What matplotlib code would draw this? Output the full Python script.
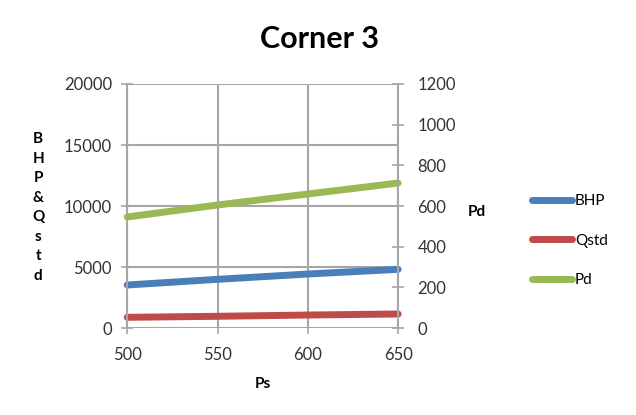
import numpy as np
import matplotlib
matplotlib.use('Agg')
import matplotlib.pyplot as plt

plt.rcParams['font.family'] = ['Lato', 'DejaVu Sans']

ps = [500, 550, 600, 650]
bhp = [3525, 3990, 4426, 4808]
qstd = [877, 960, 1065, 1150]
pd_vals = [546, 605, 659, 713]

c_bhp = '#4a7ebb'
c_qstd = '#be4b48'
c_pd = '#98b954'
grid_c = '#a6a6a6'

fig = plt.figure(figsize=(6.36, 4.15), dpi=100)
ax = fig.add_axes([0.2, 0.2096, 0.426, 0.588])
ax2 = ax.twinx()

l1, = ax.plot(ps, bhp, color=c_bhp, lw=5, solid_capstyle='round', label='BHP')
l2, = ax.plot(ps, qstd, color=c_qstd, lw=5, solid_capstyle='round', label='Qstd')
l3, = ax2.plot(ps, pd_vals, color=c_pd, lw=5, solid_capstyle='round', label='Pd')
for l in (l1, l2, l3):
    l.set_clip_on(False)

ax.set_xlim(500, 650)
ax.set_ylim(0, 20000)
ax2.set_ylim(0, 1200)
ax.set_xticks([500, 550, 600, 650])
ax.set_yticks(np.arange(0, 20001, 5000))
ax2.set_yticks(np.arange(0, 1201, 200))

ax.grid(True, color=grid_c, lw=1.5)
ax.set_axisbelow(True)
for a in (ax, ax2):
    for s in a.spines.values():
        s.set_visible(False)
ax.spines['left'].set_visible(True)
ax.spines['left'].set_color(grid_c)
ax.spines['left'].set_linewidth(1.5)
ax2.spines['right'].set_visible(True)
ax2.spines['right'].set_color(grid_c)
ax2.spines['right'].set_linewidth(1.5)

ax.tick_params(axis='y', direction='inout', length=8, width=1.2, color=grid_c,
               labelsize=12, labelcolor='#333333', pad=7)
ax.tick_params(axis='x', direction='inout', length=8, width=1.2, color=grid_c,
               labelsize=12, labelcolor='#333333', pad=10)
ax2.tick_params(axis='y', direction='inout', length=8, width=1.2, color=grid_c,
                labelsize=12, labelcolor='#333333', pad=10)

fig.text(0.502, 0.905, 'Corner 3', ha='center', va='center', fontsize=22, fontweight='bold')
fig.text(0.06, 0.50, '\n'.join('BHP&Qstd'), ha='center', va='center', fontsize=11,
         fontweight='bold', linespacing=1.5)
fig.text(0.75, 0.49, 'Pd', ha='center', va='center', fontsize=11, fontweight='bold')
fig.text(0.413, 0.075, 'Ps', ha='center', va='center', fontsize=11, fontweight='bold')

fig.legend(handles=[l1, l2, l3], loc='center left', bbox_to_anchor=(0.815, 0.42),
           frameon=False, fontsize=11, handlelength=2.6, handletextpad=0.2,
           labelspacing=1.65)

fig.savefig('out.png', dpi=100)
